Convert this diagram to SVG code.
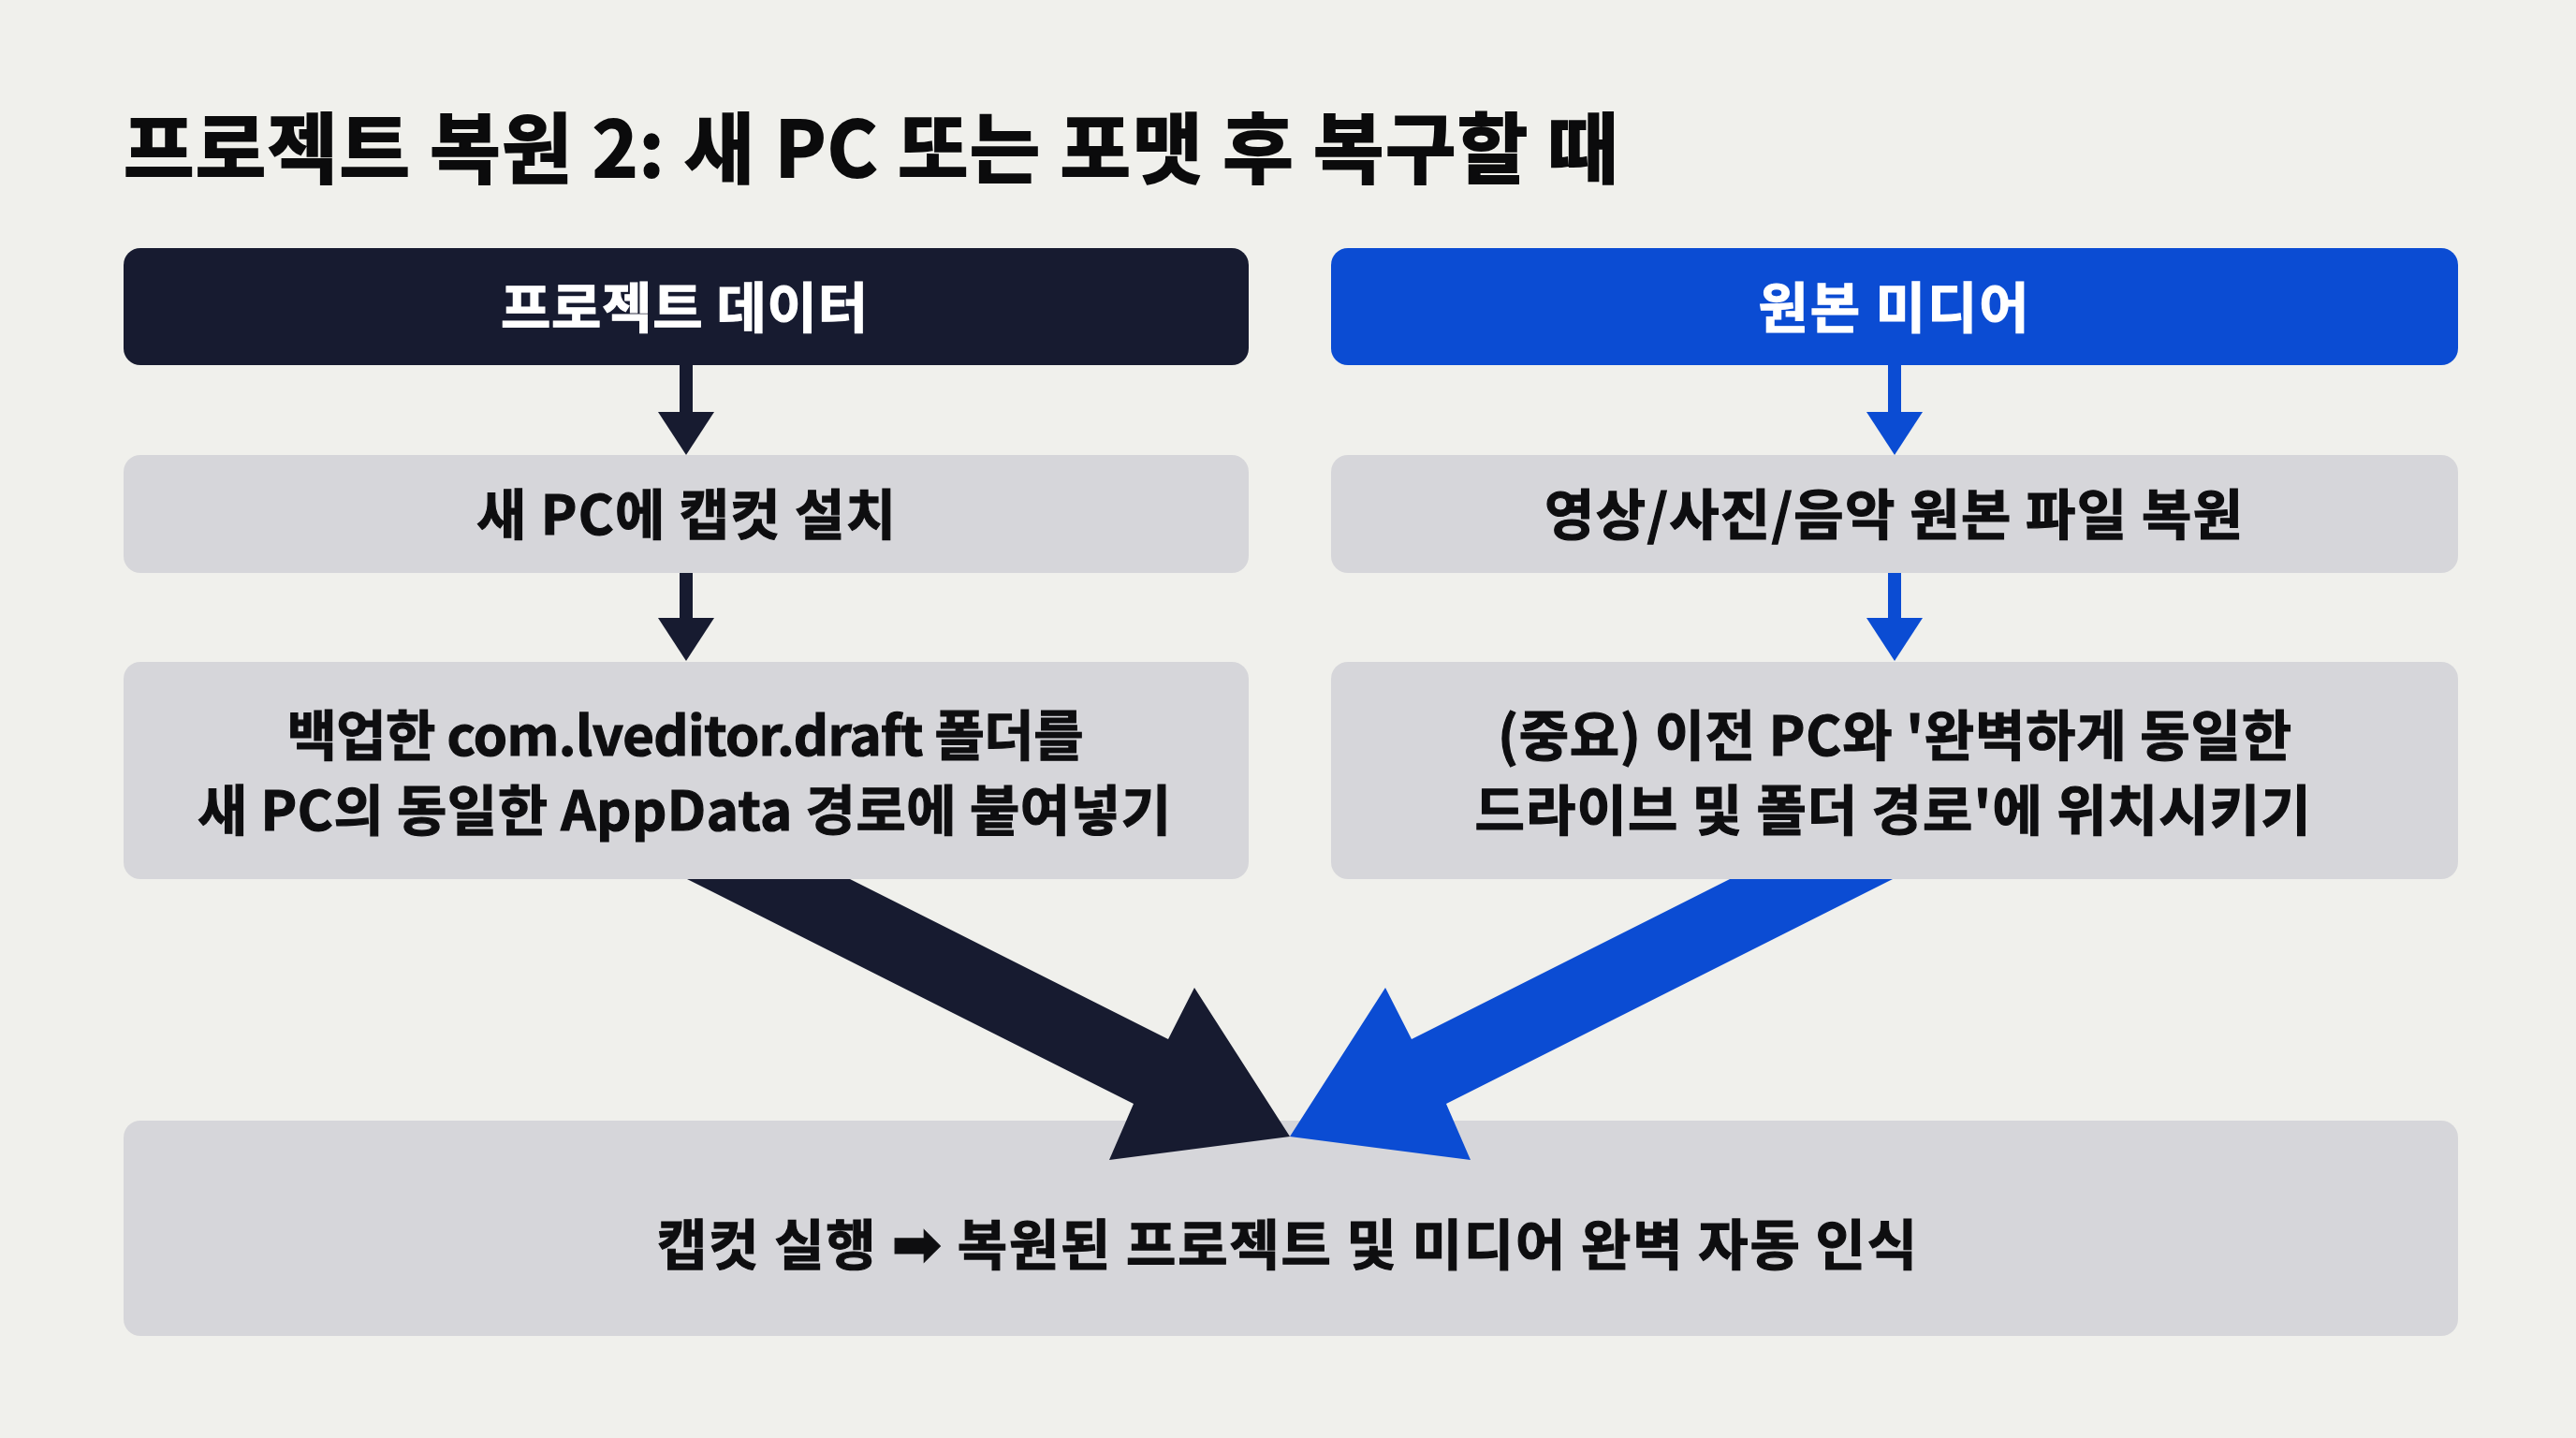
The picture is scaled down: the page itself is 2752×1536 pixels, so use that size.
<svg xmlns="http://www.w3.org/2000/svg" width="2752" height="1536" viewBox="0 0 2752 1536">
<style>
.t{font-family:"Noto Sans CJK KR","Noto Sans",sans-serif;font-weight:700}
.title{font-size:82px;fill:#0b0b0c;stroke:#0b0b0c;stroke-width:2}
.lbl{font-size:58px;text-anchor:middle;stroke-width:1.2}
.w{fill:#ffffff;stroke:#ffffff}
.k{fill:#0e0e10;stroke:#0e0e10}
.dark{fill:#171b30}
.blue{fill:#0b4cd3}
.grey{fill:#d6d6da}
</style>
<rect x="0" y="0" width="2752" height="1536" fill="#f0f0ec"/>
<text class="t title" x="132" y="189" textLength="1597" lengthAdjust="spacing">프로젝트 복원 2: 새 PC 또는 포맷 후 복구할 때</text>
<g id="connectors">
<rect class="dark" x="726" y="388" width="14" height="54"/>
<polygon class="dark" points="703,440 763,440 733,486"/>
<rect class="dark" x="726" y="610" width="14" height="52"/>
<polygon class="dark" points="703,660 763,660 733,706"/>
<rect class="blue" x="2017" y="388" width="14" height="54"/>
<polygon class="blue" points="1994,440 2054,440 2024,486"/>
<rect class="blue" x="2017" y="610" width="14" height="52"/>
<polygon class="blue" points="1994,660 2054,660 2024,706"/>
</g>
<g id="node-project-data">
<rect class="dark" x="132" y="265" width="1202" height="125" rx="18"/>
<text class="t lbl w" x="731" y="350" textLength="392" lengthAdjust="spacing">프로젝트 데이터</text>
</g>
<g id="node-original-media">
<rect class="blue" x="1422" y="265" width="1204" height="125" rx="18"/>
<text class="t lbl w" x="2023" y="350" textLength="289" lengthAdjust="spacing">원본 미디어</text>
</g>
<g id="node-install">
<rect class="grey" x="132" y="486" width="1202" height="126" rx="18"/>
<text class="t lbl k" x="733" y="571" textLength="448" lengthAdjust="spacing">새 PC에 캡컷 설치</text>
</g>
<g id="node-restore-files">
<rect class="grey" x="1422" y="486" width="1204" height="126" rx="18"/>
<text class="t lbl k" x="2023" y="571" textLength="746" lengthAdjust="spacing">영상/사진/음악 원본 파일 복원</text>
</g>
<g id="node-paste">
<rect class="grey" x="132" y="707" width="1202" height="232" rx="18"/>
<text class="t lbl k" x="732" y="807" textLength="851" lengthAdjust="spacing">백업한 com.lveditor.draft 폴더를</text>
<text class="t lbl k" x="731" y="887" textLength="1040" lengthAdjust="spacing">새 PC의 동일한 AppData 경로에 붙여넣기</text>
</g>
<g id="node-place">
<rect class="grey" x="1422" y="707" width="1204" height="232" rx="18"/>
<text class="t lbl k" x="2024" y="807" textLength="848" lengthAdjust="spacing">(중요) 이전 PC와 '완벽하게 동일한</text>
<text class="t lbl k" x="2022" y="887" textLength="893" lengthAdjust="spacing">드라이브 및 폴더 경로'에 위치시키기</text>
</g>
<g id="node-result">
<rect class="grey" x="132" y="1197" width="2494" height="230" rx="18"/>
<text class="t lbl k" x="1375" y="1351" textLength="1346" lengthAdjust="spacing">캡컷 실행 <tspan font-family="DejaVu Sans" font-size="64">➡</tspan> 복원된 프로젝트 및 미디어 완벽 자동 인식</text>
</g>
<g id="connectors-merge">
<polygon class="dark" points="734,939 908,939 1248,1110 1276,1055 1378,1214 1185,1239 1211,1179"/>
<polygon class="blue" points="2022,939 1848,939 1508,1110 1480,1055 1378,1214 1571,1239 1545,1179"/>
</g>
</svg>
